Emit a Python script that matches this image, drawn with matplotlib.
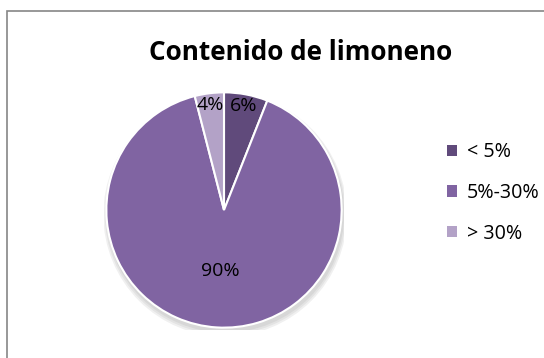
import numpy as np
import matplotlib.pyplot as plt
from matplotlib.patches import Rectangle, Circle

categorias = ['< 5%', '5%-30%', '> 30%']
valores = [6, 90, 4]
colores = ['#604a7b', '#8064a2', '#b3a2c7']

plt.rcParams['font.family'] = ['Open Sans', 'DejaVu Sans']

fig = plt.figure(figsize=(5.44, 3.58), dpi=100)

# marco del grafico
fig.patches.append(Rectangle((7 / 544, -0.05), 1.1, 1 - 11 / 358 + 0.05,
                             transform=fig.transFigure, fill=False,
                             edgecolor='#868686', linewidth=1.2))

ax = fig.add_axes([(224 - 120) / 544, (148 - 120) / 358, 240 / 544, 240 / 358])

# sombra suave bajo la tarta
for i, a in enumerate([0.05, 0.05, 0.06]):
    ax.add_patch(Circle((0.01, -0.03 - 0.005 * i), 1.0 + 0.012 * (i + 1),
                        color='black', alpha=a, lw=0, zorder=0))

wedges, textos, pcts = ax.pie(valores, colors=colores, startangle=90,
                              counterclock=False, autopct='%1.0f%%',
                              pctdistance=0.52,
                              wedgeprops=dict(edgecolor='white', linewidth=1.5),
                              textprops=dict(fontsize=14, color='black'))
for w, t, v in zip(wedges, pcts, valores):
    if v < 10:
        ang = np.deg2rad((w.theta1 + w.theta2) / 2)
        t.set_position((0.9 * np.cos(ang), 0.9 * np.sin(ang)))
ax.set_xlim(-1.02, 1.02)
ax.set_ylim(-1.02, 1.02)
ax.set_aspect('equal')
ax.axis('off')

fig.text(301 / 544, 1 - 59.5 / 358, 'Contenido de limoneno', ha='center',
         va='baseline', fontsize=18.8, fontweight='bold')

leg = fig.legend(wedges, categorias, loc='center left',
                 bbox_to_anchor=(429 / 544, 1 - 193 / 358), frameon=False,
                 fontsize=14.2, handlelength=0.52, handleheight=0.52,
                 handletextpad=0.5, labelspacing=1.05)
for h in leg.legend_handles:
    h.set_edgecolor('none')

fig.savefig('out.png', dpi=100)
